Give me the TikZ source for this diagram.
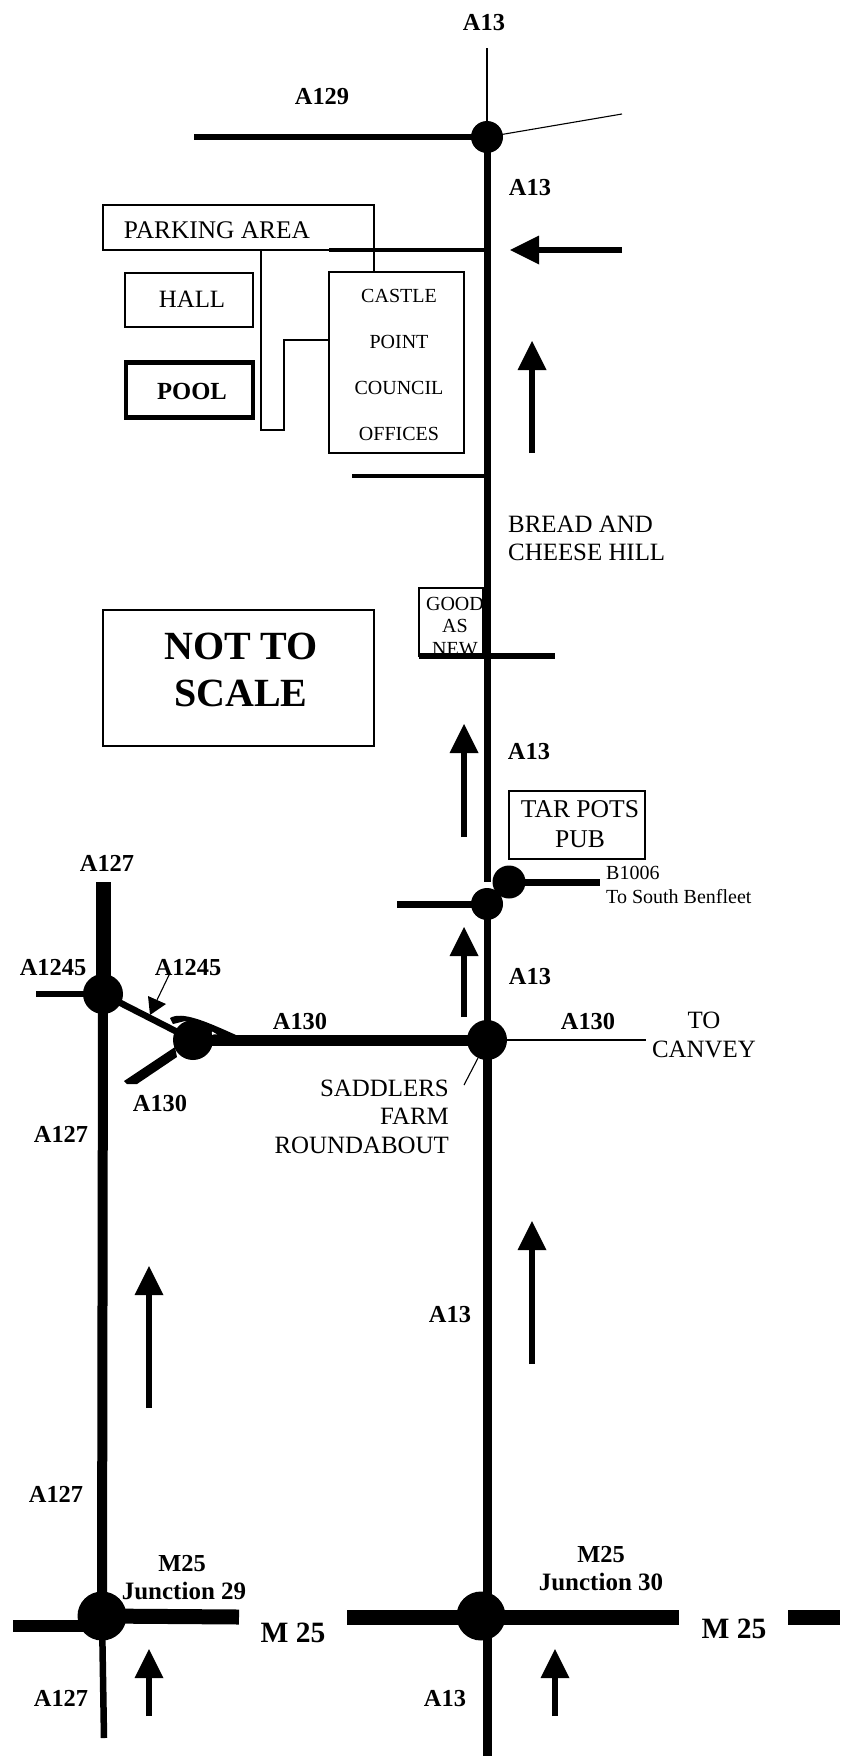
\documentclass[tikz,border=0pt]{standalone}
\usepackage{fontspec}
\setmainfont{Liberation Serif}
\usetikzlibrary{calc}
\newcommand{\fsz}[1]{\fontsize{#1}{#1}\selectfont}
\tikzset{
  x=1pt,y=-1pt,
  lbl/.style={inner sep=0pt,yshift=-1.2pt,font=\fsz{24.4}\bfseries},
  txt/.style={inner sep=0pt,yshift=-1.2pt,font=\fsz{24.9}},
  small/.style={inner sep=0pt,yshift=-1.2pt,font=\fsz{20}},
  bigb/.style={inner sep=0pt,yshift=-1.2pt,font=\fsz{#1}\bfseries},
  jn/.style={circle,fill=black,inner sep=0pt,minimum size=#1},
  box/.style={draw=black,fill=white,line width=1.2pt,inner sep=0pt},
  thin line/.style={draw=black,line width=1.1pt},
  road/.style={draw=black,line width=#1},
  upstem/.style={draw=black,line width=5.5pt},
  headfill/.style={fill=black}
}
\newcommand{\uparr}[4]{% name, x, tip y, bottom y
  \coordinate (#1t) at (#2,#3);
  \coordinate (#1b) at (#2,#4);
  \draw[upstem] (#1b) -- ($(#1t)+(0,20)$);
  \fill[headfill] (#1t) -- ($(#1t)+(-14.5,29)$) -- ($(#1t)+(14.5,29)$) -- cycle;
}
\begin{document}
\begin{tikzpicture}
\useasboundingbox (0,0) rectangle (843,1756);
% buildings
\node[box,minimum width=128pt,minimum height=54pt] (hall) at (189,300) {};
\node[txt] (halltxt) at (192,298) {HALL};
\node[box,line width=4.5pt,minimum width=127pt,minimum height=55pt] (pool) at (189.5,390) {};
\node[bigb=24.6] (pooltxt) at (192,390) {POOL};
\coordinate (pa1) at (103,250); \coordinate (pa2) at (103,205);
\coordinate (pa3) at (374,205); \coordinate (pa4) at (374,272);
\coordinate (pa5) at (329,250);
\draw[thin line,line width=1.4pt] (pa5) -- (pa1) -- (pa2) -- (pa3) -- (pa4);
\node[txt,font=\fsz{25.4}] (parktxt) at (217,229) {PARKING AREA};
\coordinate (d1) at (261,250); \coordinate (d2) at (261,430);
\coordinate (d3) at (284,430); \coordinate (d4) at (284,340); \coordinate (d5) at (329,340);
\draw[thin line,line width=1.3pt] (d1) -- (d2) -- (d3) -- (d4) -- (d5);
\node[box,minimum width=135pt,minimum height=181pt] (castle) at (396.5,362.5) {};
\node[small] (c1) at (399,295) {CASTLE};
\node[small] (c2) at (399,341) {POINT};
\node[small] (c3) at (399,387) {COUNCIL};
\node[small] (c4) at (399,433) {OFFICES};
\node[box,minimum width=64pt,minimum height=68pt] (good) at (451,622) {};
\node[small] (g1) at (455,603) {GOOD};
\node[small] (g2) at (455,625) {AS};
\node[small] (g3) at (455,648) {NEW};
\node[box,minimum width=136pt,minimum height=68pt] (tar) at (577,825) {};
\node[txt,font=\fsz{25.6}] (t1) at (580,808) {TAR POTS};
\node[txt,font=\fsz{25.6}] (t2) at (580,838) {PUB};
\node[box,minimum width=271pt,minimum height=136pt] (scale) at (238.5,678) {};
\node[bigb=40] (s1) at (241,645) {NOT TO};
\node[bigb=40] (s2) at (241,692) {SCALE};
% junctions
\node[jn=32pt] (top) at (487,137) {};
\node[jn=32pt] (lowa) at (487,904) {};
\node[jn=33pt] (ben) at (509,882) {};
\node[jn=40pt] (sad) at (487,1040) {};
\node[jn=40pt] (a127j) at (103,994) {};
\node[jn=40pt] (a130j) at (193,1040) {};
\node[jn=49pt] (j29) at (102,1616) {};
\node[jn=49pt] (j30) at (481,1616) {};
% free ends
\coordinate (topn) at (487,48);
\coordinate (a129w) at (194,137);
\coordinate (tope) at (622,114);
\coordinate (a13gap) at (487,882);
\coordinate (pk) at (329,250);
\coordinate (pkr) at (487,250);
\coordinate (sl) at (352,476);
\coordinate (slr) at (487,476);
\coordinate (gl) at (419,656);
\coordinate (gr) at (555,656);
\coordinate (lowaw) at (397,904);
\coordinate (bene) at (600,882);
\coordinate (sade) at (646,1040);
\coordinate (a13s) at (487,1756);
\coordinate (a127n) at (103,882);
\coordinate (a1245w) at (36,994);
\coordinate (a127s) at (104,1738);
\coordinate (m1w) at (13,1626);
\coordinate (m1wr) at (102,1626);
\coordinate (m1e) at (239,1617);
\coordinate (m2w) at (347,1617);
\coordinate (m2e) at (679,1617);
\coordinate (m3w) at (788,1617);
\coordinate (m3e) at (840,1617);
\coordinate (sp1) at (464,1085);
\coordinate (sp2) at (478,1058);
\coordinate (ap1) at (170,973);
\coordinate (ap2) at (157,1000);
% roads
\draw[thin line] (topn) -- (top.center);
\draw[road=5.5pt] (a129w) -- (top.center);
\draw[thin line] (top.center) -- (tope);
\draw[road=7pt] (top.center) -- (a13gap);
\draw[road=3.5pt] (pk) -- (pkr);
\draw[road=3.5pt] (sl) -- (slr);
\draw[road=5.5pt] (gl) -- (gr);
\draw[road=7pt] (lowa.center) -- (sad.center);
\draw[road=7pt] (lowaw) -- (lowa.center);
\draw[road=7pt] (ben.center) -- (bene);
\draw[thin line] (sad.center) -- (sade);
\draw[road=9pt] (sad.center) -- (a13s);
\draw[road=11pt] (a130j.center) -- (sad.center);
\draw[road=15pt] (a127n) -- (a127j.center);
\draw[road=10pt] (a127j.center) -- (j29.center);
\draw[road=6pt] (a1245w) -- (a127j.center);
\draw[road=6.5pt] (a127j.center) -- (a130j.center);
\draw[road=6.5pt] (j29.center) -- (a127s);
\draw[road=12pt] (m1w) -- (m1wr);
\draw[road=15pt] (j29.center) -- (m1e);
\draw[road=15pt] (m2w) -- (m2e);
\draw[road=15pt] (m3w) -- (m3e);
\draw[thin line] (sp1) -- (sp2);
\draw[thin line] (ap1) -- (ap2);
\fill (150,1015) -- (148,996) -- (166,1004) -- cycle;
% A130 west branch and slip
\fill (124,1081) -- (127,1084) -- (137,1084) -- (177,1057) -- (175,1047) -- cycle;
\fill (170,1018) .. controls (182,1011) and (205,1021) .. (236,1035) -- (214,1035) .. controls (205,1026) and (195,1021) .. (185,1021) -- (173,1024) -- cycle;
\fill[white] (212,1031.5) -- (217,1034.3) -- (212,1034.3) -- cycle;
% direction arrows
\uparr{u1}{532}{341}{453}
\uparr{u2}{464}{724}{837}
\uparr{u3}{464}{927}{1017}
\uparr{u4}{532}{1221}{1364}
\uparr{u5}{149}{1266}{1408}
\uparr{u6}{149}{1649}{1716}
\uparr{u7}{555}{1649}{1716}
\coordinate (wt) at (510,250); \coordinate (wb) at (622,250);
\draw[upstem] (wb) -- ($(wt)+(20,0)$);
\fill (wt) -- ($(wt)+(29,-14.5)$) -- ($(wt)+(29,14.5)$) -- cycle;
% labels
\node[lbl] (l1) at (484,21) {A13};
\node[lbl] (l2) at (322,95) {A129};
\node[lbl] (l3) at (530,186) {A13};
\node[lbl] (l4) at (529,750) {A13};
\node[lbl] (l5) at (530,975) {A13};
\node[lbl] (l6) at (300,1020) {A130};
\node[lbl] (l7) at (588,1020) {A130};
\node[txt] (to1) at (704,1019) {TO};
\node[txt] (to2) at (704,1048) {CANVEY};
\node[lbl] (l8) at (107,862) {A127};
\node[lbl] (l9) at (53,966) {A1245};
\node[lbl] (l10) at (188,966) {A1245};
\node[lbl] (l11) at (160,1102) {A130};
\node[lbl] (l12) at (61,1133) {A127};
\node[txt,anchor=east] (sa1) at (449,1087) {SADDLERS};
\node[txt,anchor=east] (sa2) at (449,1115) {FARM};
\node[txt,anchor=east] (sa3) at (449,1144) {ROUNDABOUT};
\node[lbl] (l13) at (450,1313) {A13};
\node[lbl] (l14) at (56,1493) {A127};
\node[lbl] (m1) at (182,1562) {M25};
\node[lbl,font=\fsz{25}\bfseries] (m2) at (184,1590) {Junction 29};
\node[lbl] (m3) at (601,1553) {M25};
\node[lbl,font=\fsz{25}\bfseries] (m4) at (601,1581) {Junction 30};
\node[bigb=29.5] (m5) at (293,1632) {M 25};
\node[bigb=29.5] (m6) at (734,1628) {M 25};
\node[lbl] (l15) at (61,1697) {A127};
\node[lbl] (l16) at (445,1697) {A13};
\node[small,anchor=west] (b1) at (606,872) {B1006};
\node[small,anchor=west] (b2) at (606,895) {To South Benfleet};
\node[txt,anchor=west] (br1) at (508,523) {BREAD AND};
\node[txt,anchor=west] (br2) at (508,551) {CHEESE HILL};
\end{tikzpicture}
\end{document}
